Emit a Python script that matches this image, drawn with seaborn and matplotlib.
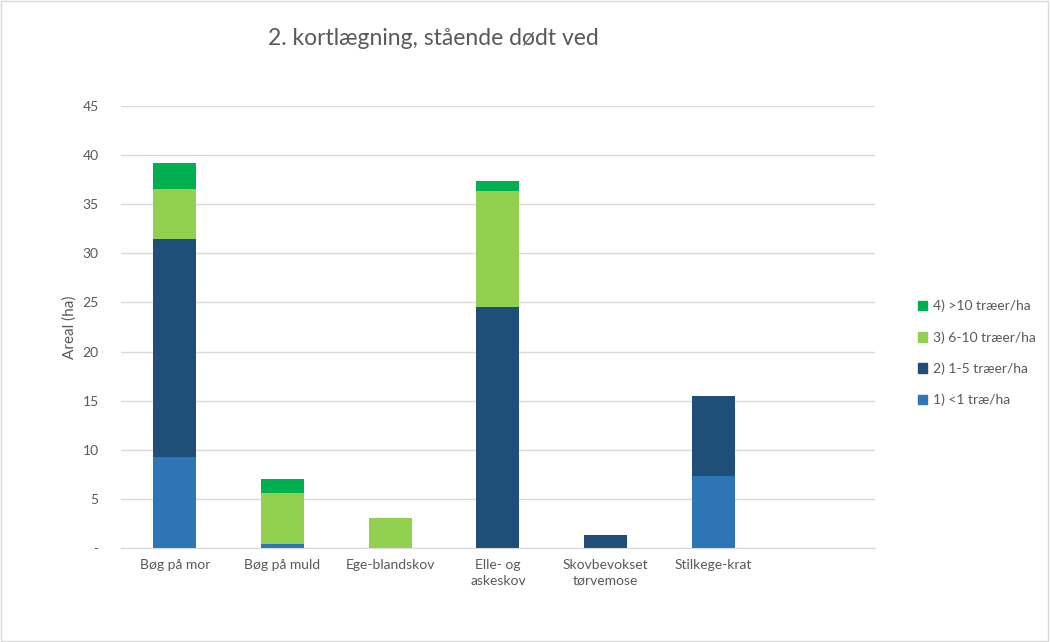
import numpy as np
import matplotlib
matplotlib.use("Agg")
import matplotlib.pyplot as plt
from matplotlib.patches import Patch, Rectangle
import seaborn as sns

# data (areal in ha)
categories = ["Bøg på mor", "Bøg på muld", "Ege-blandskov", "Elle- og\naskeskov",
              "Skovbevokset\ntørvemose", "Stilkege-krat", " "]
under_1 = [9.3, 0.45, 0, 0, 0, 7.3, 0]
from_1_to_5 = [22.2, 0, 0, 24.5, 1.3, 8.2, 0]
from_6_to_10 = [5.1, 5.2, 3.05, 11.8, 0, 0, 0]
over_10 = [2.6, 1.35, 0, 1.05, 0, 0, 0]

series_names = ["1) <1 træ/ha", "2) 1-5 træer/ha", "3) 6-10 træer/ha", "4) >10 træer/ha"]
series_colors = ["#2E75B6", "#1F4E79", "#92D050", "#00B050"]
yticks = [0, 5, 10, 15, 20, 25, 30, 35, 40, 45]
yticklabels = ["-", "5", "10", "15", "20", "25", "30", "35", "40", "45"]

sns.set_style("white")
plt.rcParams["font.family"] = ["Lato", "DejaVu Sans"]
text_col = "#595959"

fig = plt.figure(figsize=(10.5, 6.42), dpi=100)
ax = fig.add_axes([0.1152, 0.1464, 0.718, 0.6885])

# stacked bars: draw cumulative totals from the top layer down
stack = np.array([under_1, from_1_to_5, from_6_to_10, over_10])
cum = np.cumsum(stack, axis=0)
for i in range(3, -1, -1):
    sns.barplot(x=categories, y=cum[i], color=series_colors[i], width=0.4,
                saturation=1, ax=ax, order=categories, linewidth=0)

ax.set_ylim(0, 45)
ax.set_xlim(-0.5, len(categories) - 0.5)
ax.set_yticks(yticks)
ax.set_yticklabels(yticklabels)
ax.yaxis.grid(True, color="#d9d9d9", linewidth=1)
ax.set_axisbelow(True)
for s in ["left", "right", "top"]:
    ax.spines[s].set_visible(False)
ax.spines["bottom"].set_color("#d9d9d9")
ax.tick_params(axis="both", length=0, labelsize=10, colors=text_col, pad=8)
ax.tick_params(axis="y", pad=16)
for lbl in ax.get_xticklabels():
    lbl.set_linespacing(1.35)
    lbl.set_multialignment("center")
ax.set_ylabel("Areal (ha)", fontsize=11, color=text_col, labelpad=4)
ax.set_xlabel("")

fig.text(0.413, 0.94, "2. kortlægning, stående dødt ved", fontsize=16.5,
         color=text_col, ha="center", va="center")

handles = [Patch(color=series_colors[i], label=series_names[i]) for i in range(3, -1, -1)]
fig.legend(handles=handles, loc="center left", bbox_to_anchor=(0.862, 0.45),
           frameon=False, fontsize=10, labelcolor=text_col, handlelength=0.7,
           handleheight=0.7, handletextpad=0.4, labelspacing=1.35)

fig.patches.append(Rectangle((0.001, 0.001), 0.997, 0.997, transform=fig.transFigure,
                             fill=False, edgecolor="#d9d9d9", linewidth=1))

fig.savefig("out.png", dpi=100)
